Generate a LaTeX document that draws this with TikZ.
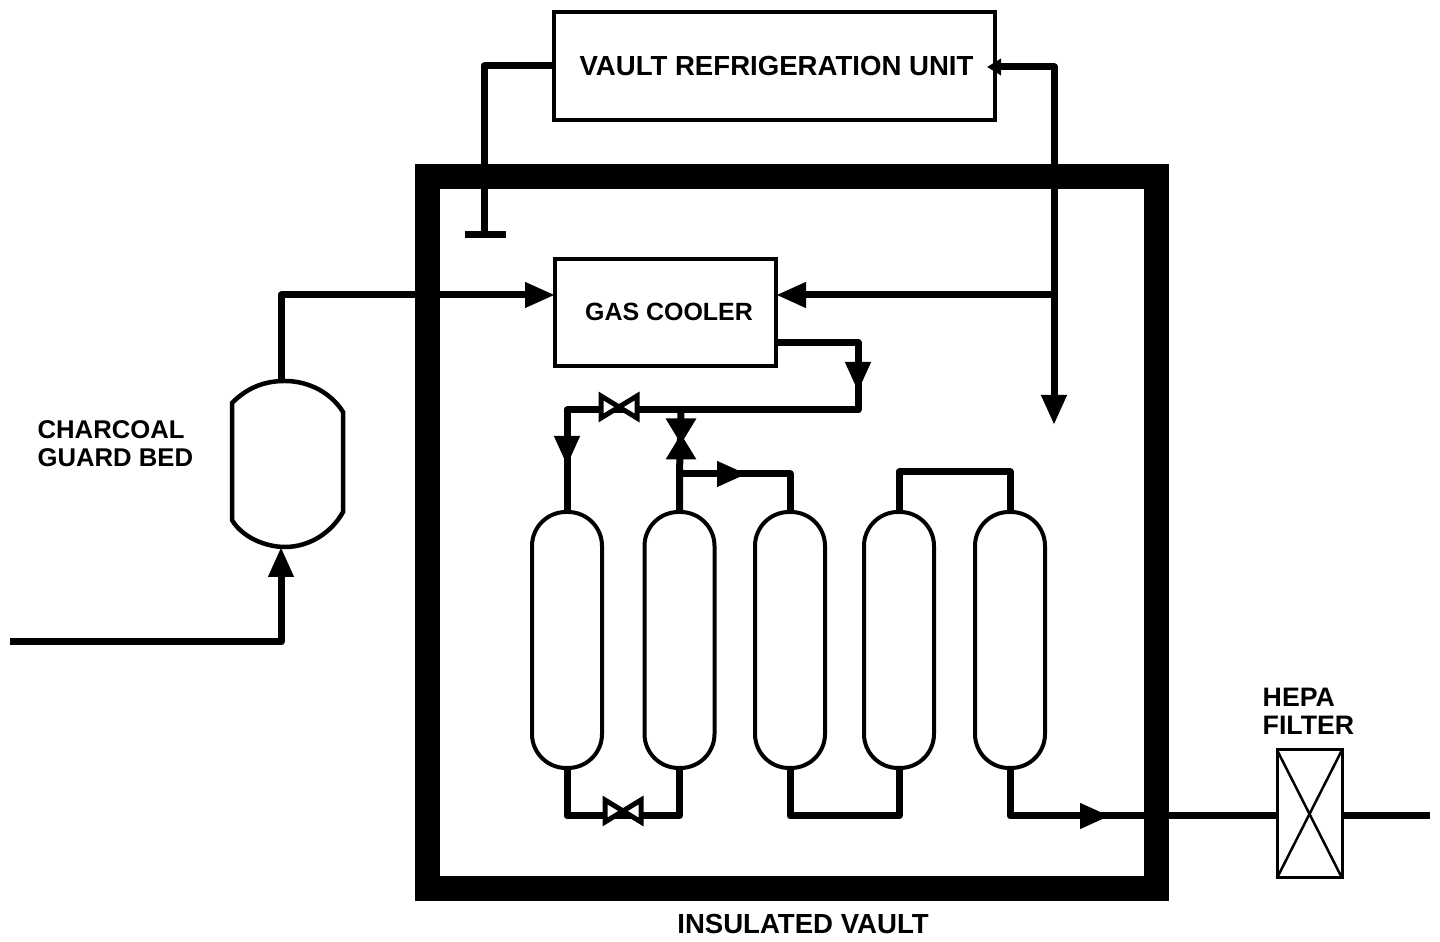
\documentclass[tikz,border=0pt]{standalone}
\usepackage{fontspec}
\setmainfont{Liberation Sans}
\usetikzlibrary{arrows.meta}
\tikzset{
	pipe/.style={line width=0.07cm, line join=round},
	unitbox/.style={draw, rectangle, line width=0.04cm, outer sep=0pt, inner sep=0pt},
	vessel/.style={draw, rectangle, rounded corners=0.34cm, line width=0.04cm, minimum width=0.7cm, minimum height=2.56cm, outer sep=0pt},
	label/.style={font=\fontsize{7.6}{8}\selectfont\bfseries, inner sep=0pt},
	valve/.pic={\draw[line width=0.05cm, pic actions] (-0.18,-0.11) -- (0.18,0.11) -- (0.18,-0.11) -- (-0.18,0.11) -- cycle;}
}

\begin{document}
\begin{tikzpicture}[>={Triangle[length=0.3cm, width=0.24cm]}]
	\useasboundingbox (0, 0) rectangle (14.4, 9.42);
	
	\node[draw, rectangle, line width=0.25cm, minimum width=7.29cm, minimum height=7.12cm, outer sep=0pt] (vault) at (7.915, 4.09) {};
	\node[unitbox, minimum width=4.41cm, minimum height=1.08cm] (vru) at (7.745, 8.76) {};
	\node[label, font=\fontsize{7.85}{8}\selectfont\bfseries] (vrulabel) at (7.765, 8.76) {VAULT REFRIGERATION UNIT};
	\node[unitbox, minimum width=2.21cm, minimum height=1.07cm] (cooler) at (6.655, 6.295) {};
	\node[label, font=\fontsize{7.1}{8}\selectfont\bfseries] (coolerlabel) at (6.69, 6.30) {GAS COOLER};
	
	\node[vessel] (v1) at (5.67, 3.02) {};
	\node[vessel] (v2) at (6.795, 3.02) {};
	\node[vessel] (v3) at (7.90, 3.02) {};
	\node[vessel] (v4) at (8.99, 3.02) {};
	\node[vessel] (v5) at (10.10, 3.02) {};
	
	\node[unitbox, line width=0.03cm, minimum width=0.65cm, minimum height=1.28cm] (filter) at (13.095, 1.28) {};
	\draw[line width=0.025cm] (filter.north west) -- (filter.south east);
	\draw[line width=0.025cm] (filter.south west) -- (filter.north east);
	
	\node[label, font=\fontsize{7.3}{8}\selectfont\bfseries, align=left, anchor=west] (bedlabel) at (0.37, 4.98) {CHARCOAL\\GUARD BED};
	\node[label, align=left, anchor=west] (filterlabel) at (12.62, 2.305) {HEPA\\FILTER};
	\node[label, font=\fontsize{7.85}{8}\selectfont\bfseries] (vaultlabel) at (8.03, 0.18) {INSULATED VAULT};
	
	% charcoal bed
	\draw[line width=0.045cm] (2.32, 5.39) .. controls (2.48, 5.55) and (2.65, 5.61) .. (2.85, 5.61) .. controls (3.10, 5.61) and (3.32, 5.48) .. (3.43, 5.30) -- (3.43, 4.30) .. controls (3.32, 4.10) and (3.10, 3.95) .. (2.85, 3.95) .. controls (2.65, 3.95) and (2.42, 4.05) .. (2.32, 4.22) -- cycle;
	\coordinate (bedtop) at (2.81, 5.61);
	\coordinate (bedbottom) at (2.81, 3.95);
	\coordinate (feed) at (0.10, 3.00);
	\coordinate (bedbend) at (2.81, 6.47);
	\draw[->, pipe] (feed) -| (bedbottom);
	\draw[->, pipe] (bedtop) -- (bedbend) -- (cooler.west |- bedbend);
	
	% refrigeration loop
	\coordinate (tbar) at (4.84, 7.07);
	\coordinate (vrutip) at (9.87, 8.75);
	\coordinate (coldbend) at (10.54, 8.75);
	\coordinate (branch) at (10.54, 6.47);
	\coordinate (cold) at (10.54, 5.17);
	\draw[pipe] (vru.west) -| (tbar);
	\draw[pipe] (4.65, 7.07) -- (5.06, 7.07);
	\draw[{Triangle[length=0.14cm, width=0.16cm]}-, pipe] (vrutip) -- (coldbend) -- (branch);
	\draw[->, pipe] (branch) -- (cold);
	\draw[->, pipe] (branch) -- (cooler.east |- branch);
	
	% vessels train
	\coordinate (coolerout) at (7.76, 5.99);
	\coordinate (drop) at (8.58, 5.50);
	\coordinate (turn) at (8.58, 5.32);
	\coordinate (left) at (5.67, 5.32);
	\coordinate (leftdrop) at (5.67, 4.76);
	\coordinate (tee) at (6.81, 5.32);
	\coordinate (teelow) at (6.795, 4.68);
	\coordinate (midtip) at (7.47, 4.68);
	\coordinate (midbend) at (7.90, 4.68);
	\draw[pipe] (coolerout) -| (turn) -- (left) -- (v1.north);
	\draw[->, pipe] (coolerout) -| (drop);
	\draw[->, pipe] (left) -- (leftdrop);
	\draw[pipe] (tee) -- (teelow) -- (v2.north);
	\draw[pipe] (teelow) -- (midbend) -- (v3.north);
	\draw[->, pipe] (teelow) -- (midtip);
	\coordinate (toplink) at (8.99, 4.70);
	\draw[pipe] (v4.north) -- (toplink) -| (v5.north);
	
	\coordinate (low) at (5.67, 1.26);
	\draw[pipe] (v1.south) -- (low) -| (v2.south);
	\coordinate (lowb) at (7.90, 1.26);
	\draw[pipe] (v3.south) -- (lowb) -| (v4.south);
	\coordinate (lowc) at (10.10, 1.26);
	\coordinate (outtip) at (11.10, 1.26);
	\coordinate (outlet) at (14.30, 1.26);
	\draw[pipe] (v5.south) -- (lowc) -- (filter.west |- outlet);
	\draw[->, pipe] (lowc) -- (outtip);
	\draw[pipe] (filter.east |- outlet) -- (outlet);
	
	\pic[fill=white] at (6.19, 5.35) {valve};
	\pic[fill=white] at (6.23, 1.31) {valve};
	\pic[fill=black, rotate=90] at (6.81, 5.03) {valve};
\end{tikzpicture}
\end{document}
